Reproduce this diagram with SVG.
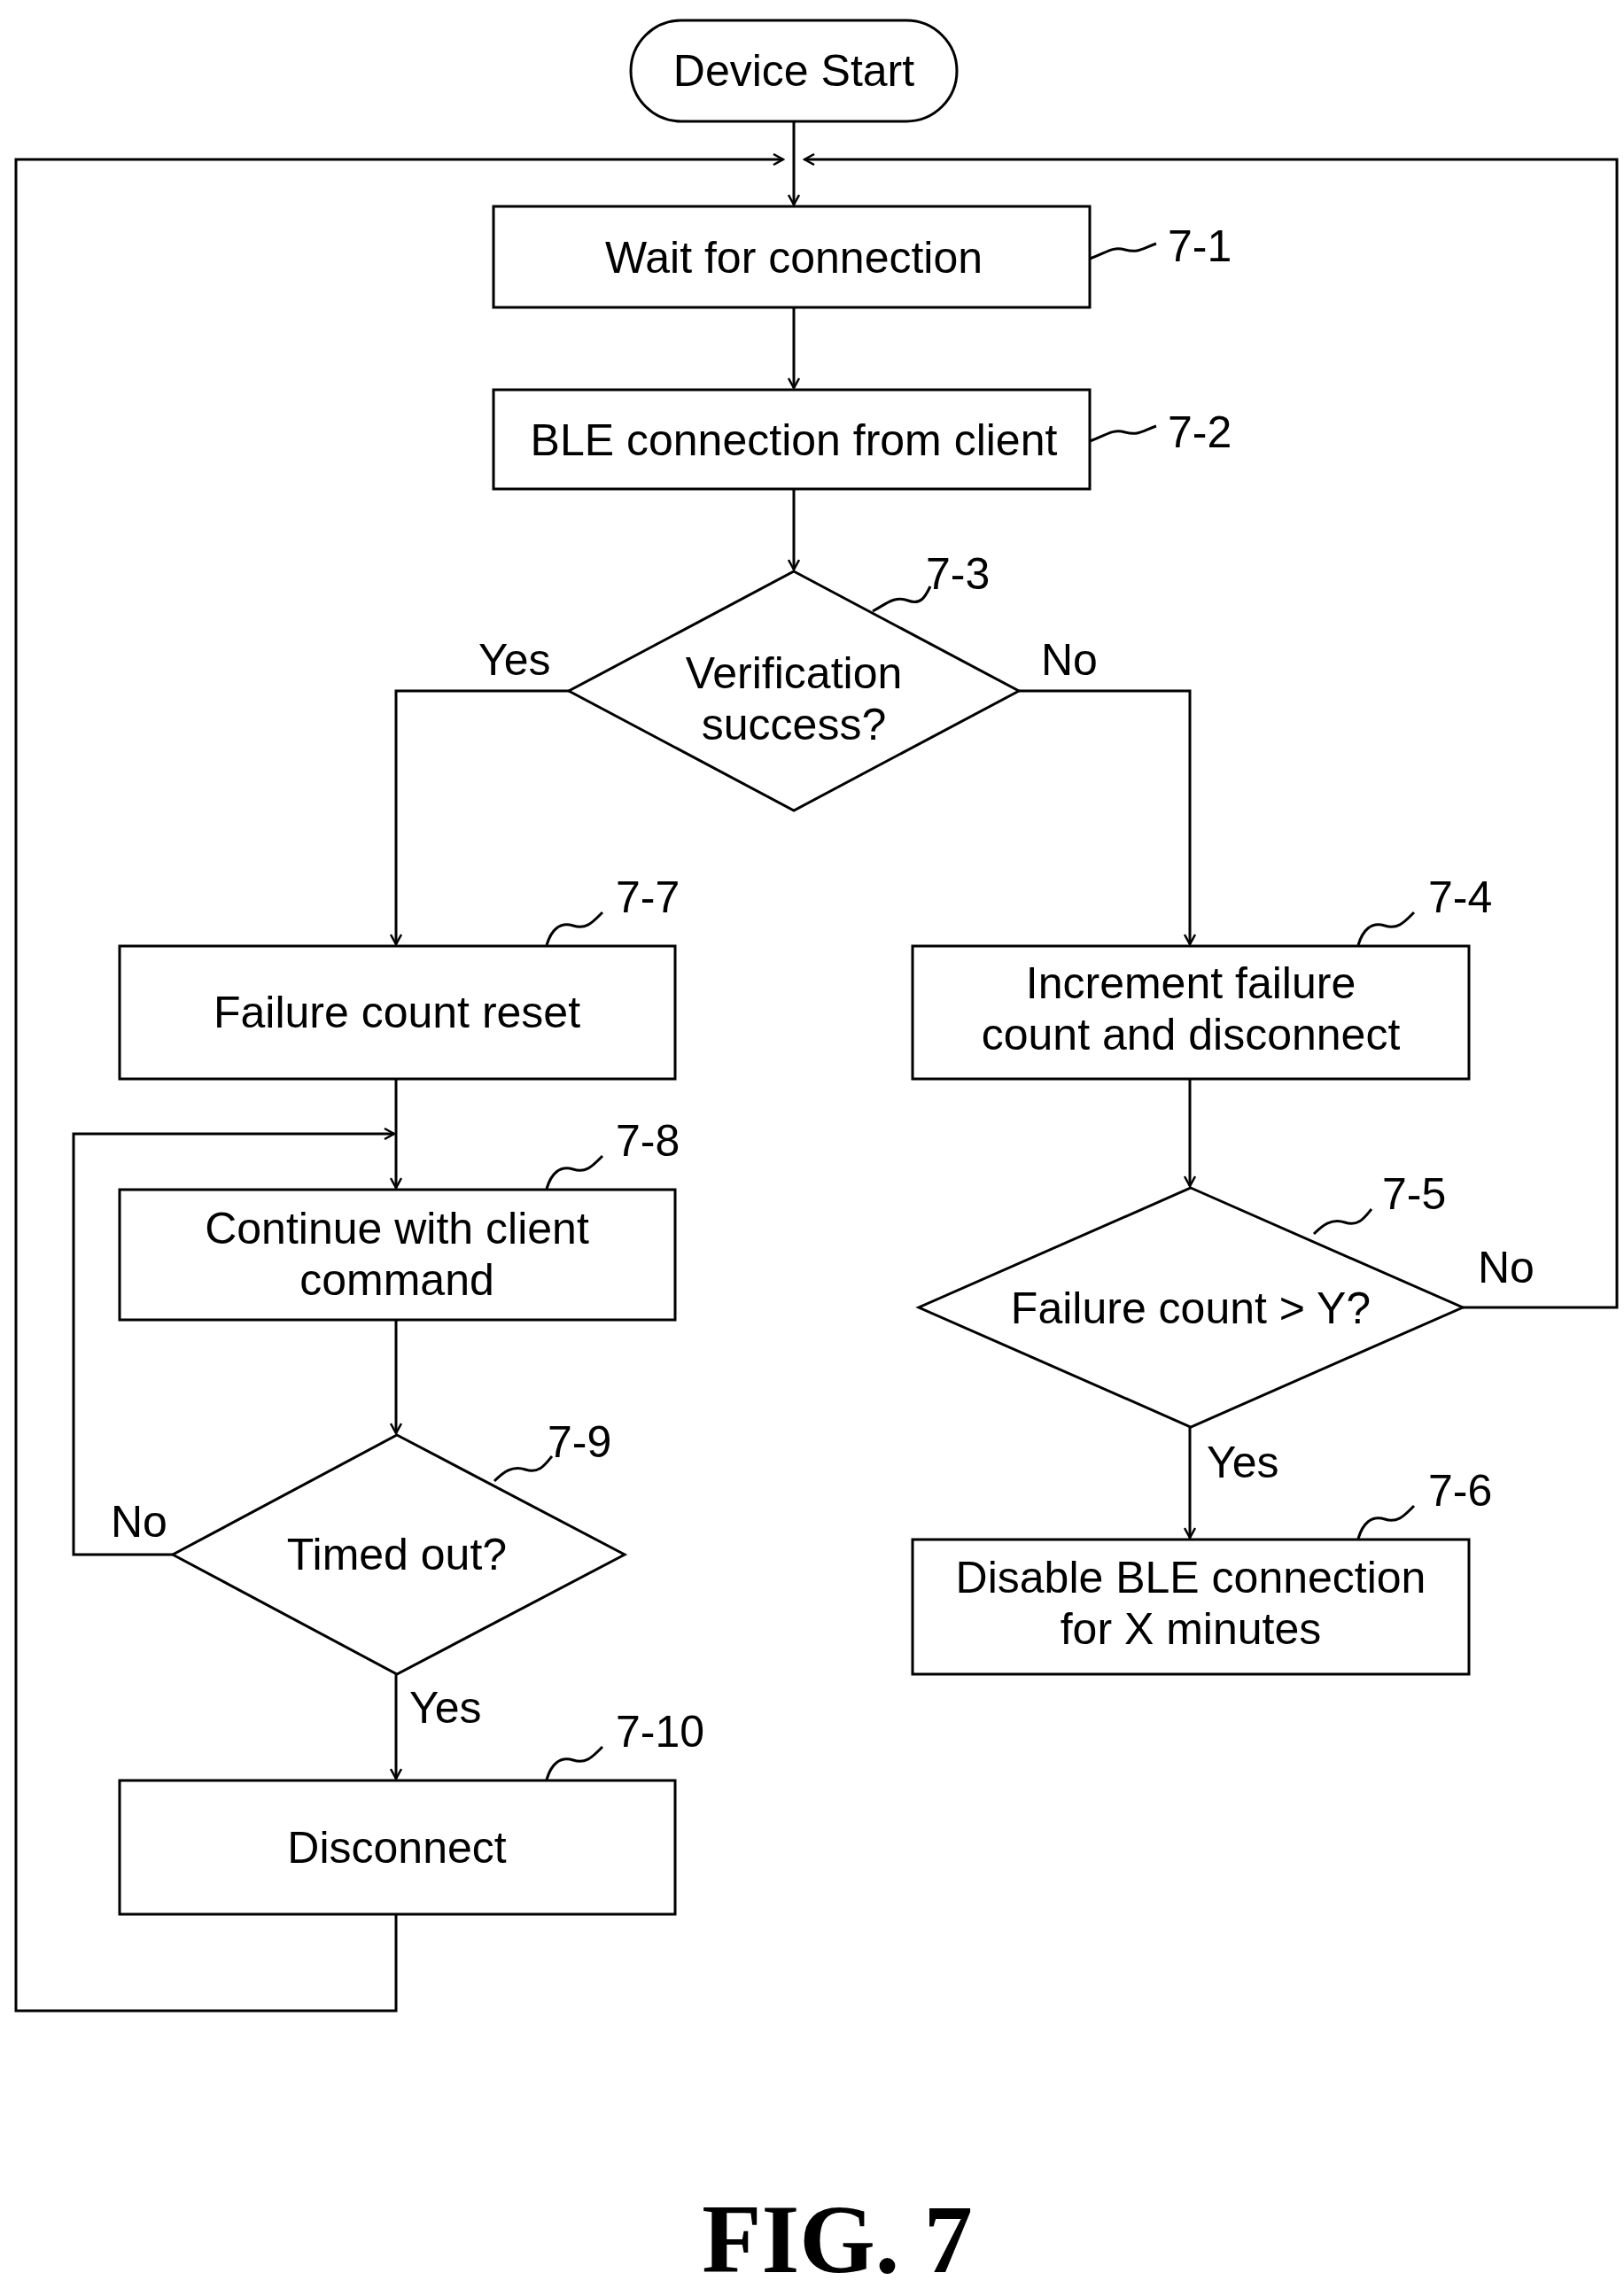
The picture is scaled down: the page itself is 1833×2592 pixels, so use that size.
<svg xmlns="http://www.w3.org/2000/svg" width="1833" height="2592" viewBox="0 0 1833 2592">
<defs>
<marker id="a" markerWidth="14" markerHeight="14" refX="12" refY="7" orient="auto" markerUnits="userSpaceOnUse"><path d="M1,1 L12,7 L1,13" fill="none" stroke="#000" stroke-width="2.5"/></marker>
</defs>
<style>
.s{fill:#fff;stroke:#000;stroke-width:3}
.l{fill:none;stroke:#000;stroke-width:3}
.t{font-family:"Liberation Sans",Arial,sans-serif;font-size:50px;text-anchor:middle;fill:#000}
.r{font-family:"Liberation Sans",Arial,sans-serif;font-size:50px;fill:#000}
</style>
<rect width="1833" height="2592" fill="#fff"/>
<g id="start"><rect class="s" x="712" y="23" width="368" height="114" rx="57"/><text class="t" x="896" y="97">Device Start</text></g>
<g id="n7-1"><rect class="s" x="557" y="233" width="673" height="114"/><text class="t" x="896" y="308">Wait for connection</text><path class="l" d="M1230,292 C1250,285 1255,278 1270,282 C1285,286 1290,280 1305,275"/><text class="r" x="1318" y="295">7-1</text></g>
<g id="n7-2"><rect class="s" x="557" y="440" width="673" height="112"/><text class="t" x="896" y="514">BLE connection from client</text><path class="l" d="M1230,498 C1250,491 1255,484 1270,488 C1285,492 1290,486 1305,481"/><text class="r" x="1318" y="505">7-2</text></g>
<g id="n7-3"><polygon class="s" points="896,645 1150,780 896,915 642,780"/><text class="t" x="896" y="777">Verification</text><text class="t" x="896" y="835">success?</text><path class="l" d="M985,690 C1000,682 1010,672 1025,678 C1040,684 1045,672 1050,662"/><text class="r" x="1045" y="665">7-3</text></g>
<g id="n7-7"><rect class="s" x="135" y="1068" width="627" height="150"/><text class="t" x="448" y="1160">Failure count reset</text><path class="l" d="M617,1067 C622,1050 632,1040 647,1045 C662,1050 670,1040 680,1030"/><text class="r" x="695" y="1030">7-7</text></g>
<g id="n7-4"><rect class="s" x="1030" y="1068" width="628" height="150"/><text class="t" x="1344" y="1127">Increment failure</text><text class="t" x="1344" y="1185">count and disconnect</text><path class="l" d="M1533,1067 C1538,1050 1548,1040 1563,1045 C1578,1050 1586,1040 1596,1030"/><text class="r" x="1612" y="1030">7-4</text></g>
<g id="n7-8"><rect class="s" x="135" y="1343" width="627" height="147"/><text class="t" x="448" y="1404">Continue with client</text><text class="t" x="448" y="1462">command</text><path class="l" d="M617,1342 C622,1325 632,1315 647,1320 C662,1325 670,1315 680,1305"/><text class="r" x="695" y="1305">7-8</text></g>
<g id="n7-5"><polygon class="s" points="1344,1341 1651,1476 1344,1611 1037,1476"/><text class="t" x="1344" y="1494">Failure count &gt; Y?</text><path class="l" d="M1483,1393 C1493,1383 1503,1375 1518,1380 C1533,1385 1540,1375 1548,1365"/><text class="r" x="1560" y="1365">7-5</text></g>
<g id="n7-6"><rect class="s" x="1030" y="1738" width="628" height="152"/><text class="t" x="1344" y="1798">Disable BLE connection</text><text class="t" x="1344" y="1856">for X minutes</text><path class="l" d="M1533,1737 C1538,1720 1548,1710 1563,1715 C1578,1720 1586,1710 1596,1700"/><text class="r" x="1612" y="1700">7-6</text></g>
<g id="n7-9"><polygon class="s" points="448,1620 705,1755 448,1890 195,1755"/><text class="t" x="448" y="1772">Timed out?</text><path class="l" d="M558,1672 C568,1662 578,1654 593,1659 C608,1664 615,1654 623,1644"/><text class="r" x="618" y="1645">7-9</text></g>
<g id="n7-10"><rect class="s" x="135" y="2010" width="627" height="151"/><text class="t" x="448" y="2103">Disconnect</text><path class="l" d="M617,2009 C622,1992 632,1982 647,1987 C662,1992 670,1982 680,1972"/><text class="r" x="695" y="1972">7-10</text></g>
<g id="connectors">
<path class="l" d="M896,137 V231" marker-end="url(#a)"/>
<path class="l" d="M896,347 V438" marker-end="url(#a)"/>
<path class="l" d="M896,552 V643" marker-end="url(#a)"/>
<path class="l" d="M642,780 H447 V1066" marker-end="url(#a)"/>
<path class="l" d="M1150,780 H1343 V1066" marker-end="url(#a)"/>
<path class="l" d="M1343,1218 V1339" marker-end="url(#a)"/>
<path class="l" d="M1343,1611 V1736" marker-end="url(#a)"/>
<path class="l" d="M1651,1476 H1825 V180 H908" marker-end="url(#a)"/>
<path class="l" d="M447,1218 V1341" marker-end="url(#a)"/>
<path class="l" d="M447,1490 V1618" marker-end="url(#a)"/>
<path class="l" d="M195,1755 H83 V1280 H445" marker-end="url(#a)"/>
<path class="l" d="M447,1890 V2008" marker-end="url(#a)"/>
<path class="l" d="M447,2161 V2270 H18 V180 H884" marker-end="url(#a)"/>
<text class="r" x="540" y="762">Yes</text>
<text class="r" x="1175" y="762">No</text>
<text class="r" x="1668" y="1448">No</text>
<text class="r" x="1362" y="1668">Yes</text>
<text class="r" x="125" y="1735">No</text>
<text class="r" x="462" y="1945">Yes</text>
</g>
<text x="945" y="2600" font-family="'Liberation Serif','Times New Roman',serif" font-weight="bold" font-size="110" text-anchor="middle" transform="translate(0,-35)">FIG. 7</text>
</svg>
